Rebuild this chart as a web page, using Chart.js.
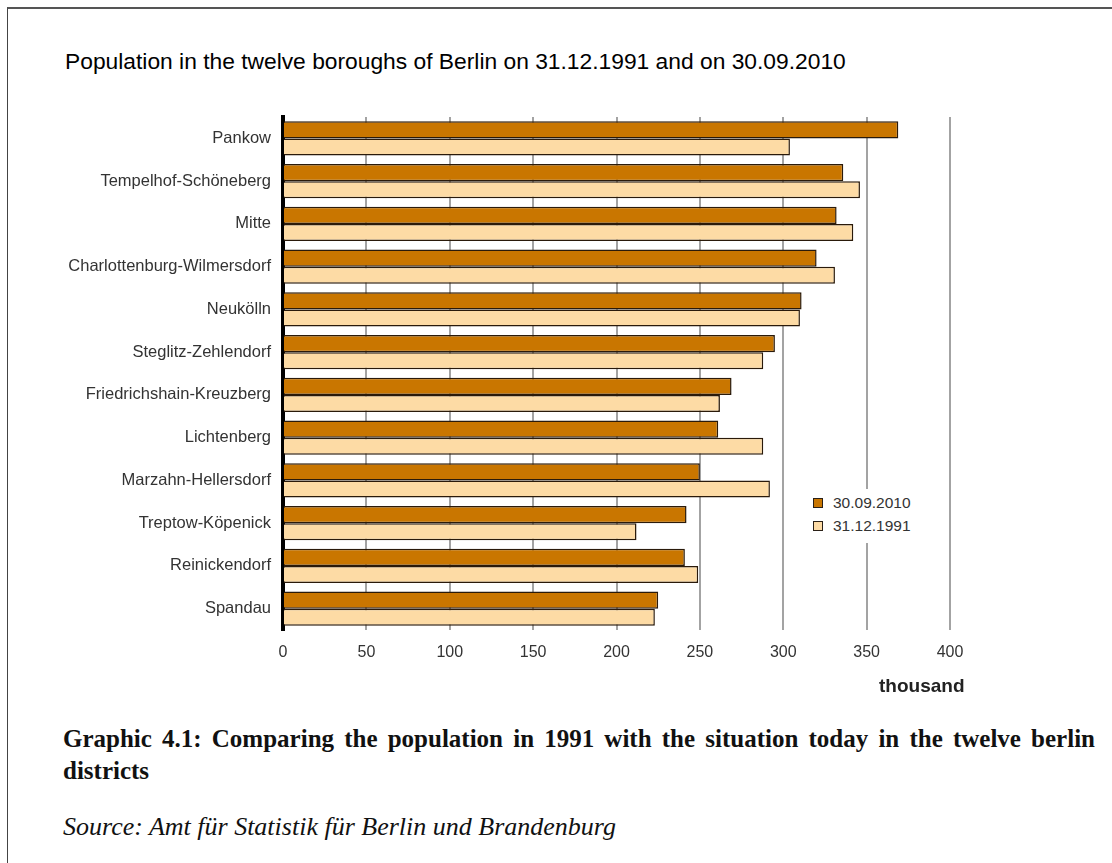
<!DOCTYPE html>
<html>
<head>
<meta charset="utf-8">
<script src="https://cdn.jsdelivr.net/npm/chart.js@4.4.1/dist/chart.umd.min.js"></script>
<style>
  body { margin: 0; background: #fff; width: 1112px; height: 863px; position: relative; overflow: hidden; }
  .frame { position: absolute; left: 7px; top: 7px; width: 1200px; height: 900px;
           border-top: 2px solid #555; border-left: 1.5px solid #444; }
  #title { position: absolute; left: 65px; top: 48px; font: 22.8px "Liberation Sans", Arial, sans-serif; color: #000; white-space: nowrap; }
  #chartBox { position: absolute; left: 0; top: 0; }
  #unit { position: absolute; left: 879px; top: 675px; font: bold 19px "Liberation Sans", Arial, sans-serif; color: #222; }
  #legend { position: absolute; left: 806px; top: 489px; width: 130px; height: 54px; background: #fff;
            font: 15.5px "Liberation Sans", Arial, sans-serif; color: #333; }
  #legend div { position: absolute; left: 7px; height: 18px; line-height: 18px; white-space: nowrap; }
  #legend span { display: inline-block; width: 8px; height: 8px; border: 1.5px solid #2a2017; margin-right: 10px; vertical-align: 0px; }
  #caption { position: absolute; left: 63px; top: 723px; width: 1032px; font: bold 25px "Liberation Serif", "Times New Roman", serif; color: #111; line-height: 32px; }
  #caption .l1 { text-align: justify; text-align-last: justify; white-space: nowrap; }
  #source { position: absolute; left: 63px; top: 812px; font: italic 26px "Liberation Serif", "Times New Roman", serif; color: #111; }
</style>
</head>
<body>
<div class="frame"></div>
<div id="title">Population in the twelve boroughs of Berlin on 31.12.1991 and on 30.09.2010</div>
<div id="chartBox"><canvas id="myChart" width="1112" height="680"></canvas></div>
<div id="legend"></div>
<div id="unit">thousand</div>
<div id="caption">
  <div class="l1">Graphic 4.1: Comparing the population in 1991 with the situation today in the twelve berlin</div>
  <div>districts</div>
</div>
<div id="source">Source: Amt für Statistik für Berlin und Brandenburg</div>
<script>
// data (thousand inhabitants)
const boroughs = ["Pankow", "Tempelhof-Schöneberg", "Mitte", "Charlottenburg-Wilmersdorf", "Neukölln",
  "Steglitz-Zehlendorf", "Friedrichshain-Kreuzberg", "Lichtenberg", "Marzahn-Hellersdorf",
  "Treptow-Köpenick", "Reinickendorf", "Spandau"];
const pop2010 = [369, 336, 332, 320, 311, 295, 269, 261, 250, 242, 241, 225];
const pop1991 = [304, 346, 342, 331, 310, 288, 262, 288, 292, 212, 249, 223];
const seriesNames = ["30.09.2010", "31.12.1991"];
const colors = ["#c97600", "#fddba5"];
const xTicks = [0, 50, 100, 150, 200, 250, 300, 350, 400];

// legend as html so it can blank out the grid line behind it
const legend = document.getElementById("legend");
seriesNames.forEach((name, i) => {
  const row = document.createElement("div");
  row.style.top = (5 + i * 23) + "px";
  row.innerHTML = '<span style="background:' + colors[i] + '"></span>' + name;
  legend.appendChild(row);
});

new Chart(document.getElementById("myChart"), {
  type: 'bar',
  data: {
    labels: boroughs,
    datasets: [
      { label: seriesNames[0], data: pop2010, backgroundColor: colors[0], borderColor: "#2a1a0a", borderWidth: 1.5 },
      { label: seriesNames[1], data: pop1991, backgroundColor: colors[1], borderColor: "#2a1a0a", borderWidth: 1.5 }
    ]
  },
  options: {
    indexAxis: 'y',
    responsive: false,
    animation: false,
    layout: { padding: { top: 117, bottom: 0, left: 0, right: 162 } },
    datasets: { bar: { categoryPercentage: 0.8, barPercentage: 1.0 } },
    plugins: { legend: { display: false }, tooltip: { enabled: false } },
    scales: {
      x: {
        min: 0, max: 400,
        afterBuildTicks: s => { s.ticks = xTicks.map(v => ({ value: v })); },
        afterFit: s => { s.height = 50; },
        grid: { color: "#a3a3a3", lineWidth: 2, drawTicks: false },
        border: { display: false },
        ticks: { padding: 13, color: "#333", font: { family: "Liberation Sans", size: 16 } }
      },
      y: {
        afterFit: s => { s.width = 283; },
        grid: { display: false, drawTicks: false },
        border: { display: true, color: "#000", width: 4 },
        ticks: { padding: 12, color: "#333", font: { family: "Liberation Sans", size: 16.5 } }
      }
    }
  }
});
</script>
</body>
</html>
